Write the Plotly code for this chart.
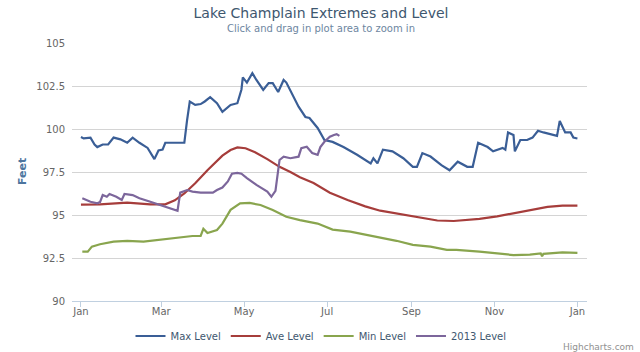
import pandas as pd
import plotly.graph_objects as go

# Day offsets from 1 Jan 2013 and lake levels (feet)
max_days = [0, 2, 7, 10, 12, 16, 20, 24, 29, 34, 38, 43, 49, 52, 54, 57, 60, 62, 69, 76,
            78, 80, 84, 88, 91, 95, 100, 104, 110, 115, 118, 119, 122, 126, 129, 134, 138,
            141, 145, 149, 151, 155, 160, 165, 168, 174, 179, 185, 193, 203, 213, 215, 218,
            222, 229, 237, 244, 247, 251, 257, 260, 265, 271, 277, 284, 288, 292, 299, 303,
            310, 312, 314, 318, 319, 323, 328, 332, 336, 340, 347, 350, 352, 356, 360, 362, 365]
max_level = [99.53, 99.45, 99.5, 99.1, 98.95, 99.1, 99.1, 99.5, 99.4, 99.2, 99.5, 99.2, 98.9,
             98.5, 98.25, 98.75, 98.8, 99.2, 99.2, 99.2, 100.5, 101.6, 101.4, 101.45, 101.6,
             101.85, 101.5, 101.0, 101.4, 101.5, 102.3, 103.0, 102.7, 103.25, 102.85, 102.27,
             102.67, 102.67, 102.15, 102.85, 102.7, 102.1, 101.3, 100.7, 100.64, 100.06, 99.36,
             99.25, 98.95, 98.5, 98.0, 98.3, 98.0, 98.8, 98.7, 98.3, 97.8, 97.8, 98.6, 98.4,
             98.2, 97.9, 97.6, 98.1, 97.8, 97.8, 99.2, 98.95, 98.7, 98.9, 98.8, 99.8, 99.65,
             98.7, 99.36, 99.36, 99.5, 99.9, 99.8, 99.65, 99.6, 100.47, 99.8, 99.8, 99.5, 99.45]

ave_days = [0, 14, 34, 51, 62, 69, 76, 84, 93, 99, 104, 110, 115, 121, 128, 137, 146, 154,
            161, 171, 183, 196, 209, 220, 235, 244, 262, 274, 286, 293, 306, 318, 330, 343, 354, 365]
ave_level = [95.6, 95.62, 95.72, 95.62, 95.62, 95.85, 96.25, 96.85, 97.6, 98.05, 98.45, 98.78,
             98.93, 98.88, 98.65, 98.25, 97.8, 97.5, 97.2, 96.86, 96.3, 95.87, 95.5, 95.25,
             95.05, 94.9, 94.68, 94.65, 94.7, 94.77, 94.92, 95.1, 95.3, 95.47, 95.55, 95.55]

min_days = [1, 5, 8, 14, 24, 34, 46, 58, 71, 82, 88, 90, 93, 100, 104, 110, 117, 124, 132,
            141, 151, 161, 174, 185, 198, 210, 225, 232, 244, 257, 269, 276, 293, 318, 330,
            338, 339, 340, 354, 365]
min_level = [92.87, 92.87, 93.16, 93.3, 93.45, 93.5, 93.45, 93.55, 93.65, 93.78, 93.78, 94.2,
             93.95, 94.13, 94.5, 95.3, 95.68, 95.7, 95.58, 95.29, 94.9, 94.7, 94.5, 94.15,
             94.03, 93.84, 93.64, 93.5, 93.26, 93.16, 92.97, 92.97, 92.87, 92.67, 92.7, 92.77,
             92.6, 92.74, 92.83, 92.8]

y2013_days = [1, 7, 12, 14, 16, 19, 21, 26, 30, 32, 38, 43, 51, 58, 68, 71, 73, 78, 82, 88,
              93, 97, 100, 104, 108, 111, 115, 118, 122, 129, 137, 140, 143, 146, 149, 154,
              160, 162, 166, 170, 174, 176, 179, 183, 186, 188, 190]
y2013_level = [95.97, 95.77, 95.68, 95.75, 96.16, 96.06, 96.22, 96.06, 95.87, 96.22, 96.16,
               95.97, 95.77, 95.58, 95.33, 95.25, 96.3, 96.45, 96.36, 96.3, 96.3, 96.3, 96.45,
               96.6, 96.95, 97.4, 97.45, 97.4, 97.15, 96.75, 96.36, 96.06, 96.4, 98.2, 98.39,
               98.3, 98.39, 98.88, 98.97, 98.6, 98.5, 98.95, 99.26, 99.55, 99.65, 99.7, 99.6]

series_names = ["Max Level", "Ave Level", "Min Level", "2013 Level"]
series_colors = ["#3A5E96", "#A63D3B", "#89A54E", "#7C669B"]
y_ticks = [90, 92.5, 95, 97.5, 100, 102.5, 105]
y_tick_labels = ["90", "92.5", "95", "97.5", "100", "102.5", "105"]

base = pd.Timestamp("2013-01-01")


def to_dates(days):
    return [base + pd.Timedelta(days=d) for d in days]


# plot area in pixels
PL, PR, PT, PB = 72, 587, 43, 301


def px(x):
    return (x - PL) / (PR - PL)


def py(y):
    return (PB - y) / (PB - PT)


font = "DejaVu Sans, Verdana, sans-serif"
fig = go.Figure()
for days, vals, name, color in zip(
        [max_days, ave_days, min_days, y2013_days],
        [max_level, ave_level, min_level, y2013_level],
        series_names, series_colors):
    fig.add_trace(go.Scatter(x=to_dates(days), y=vals, mode="lines", name=name,
                             line=dict(color=color, width=2.2)))

fig.update_layout(
    width=640, height=352,
    margin=dict(l=PL, r=640 - PR, t=PT, b=352 - PB, autoexpand=False),
    paper_bgcolor="white", plot_bgcolor="white",
    font=dict(family=font, color="#666666", size=10),
    title=dict(text="Lake Champlain Extremes and Level", x=px(321), xref="paper",
               xanchor="center", y=1 - 13.5 / 352, yref="container", yanchor="middle",
               font=dict(size=14, color="#3E576F", family=font)),
    showlegend=True,
    legend=dict(orientation="h", x=px(321), xanchor="center",
                y=py(336), yanchor="middle", bgcolor="rgba(0,0,0,0)",
                font=dict(size=10, color="#3E576F", family=font),
                itemwidth=30, traceorder="normal"),
    xaxis=dict(type="date", range=["2012-12-25 10:00", "2014-01-08 01:00"],
               tick0="2013-01-01", dtick="M2", tickformat="%b",
               showgrid=False, showline=True, linecolor="#C0D0E0", linewidth=1,
               ticks="outside", ticklen=5, tickcolor="#C0D0E0", ticklabelstandoff=-4,
               tickfont=dict(size=10, color="#666666"), zeroline=False),
    yaxis=dict(range=[90, 105], tickvals=y_ticks, ticktext=y_tick_labels,
               showgrid=True, gridcolor="#D4D4D4", gridwidth=1, zeroline=False,
               showline=False, ticks="", ticklabelstandoff=6,
               tickfont=dict(size=10, color="#666666")),
    annotations=[
        dict(text="Click and drag in plot area to zoom in", xref="paper", yref="paper",
             x=px(321), y=py(28.5), xanchor="center", yanchor="middle",
             showarrow=False, font=dict(size=10, color="#6D869F", family=font)),
        dict(text="<b>Feet</b>", xref="paper", yref="paper", x=px(22),
             y=0.5, xanchor="center", yanchor="middle", textangle=-90, showarrow=False,
             font=dict(size=11, color="#4D759E", family=font)),
        dict(text="Highcharts.com", xref="paper", yref="paper", x=px(636),
             y=py(347), xanchor="right", yanchor="middle", showarrow=False,
             font=dict(size=9, color="#909090", family=font)),
    ],
)

fig.write_html("out.html")
